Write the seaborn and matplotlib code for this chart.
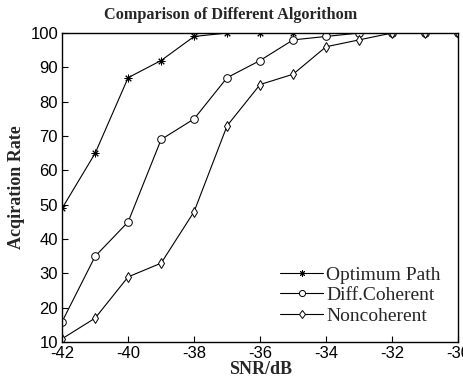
import pandas as pd
import matplotlib.pyplot as plt
import seaborn as sns

# -----------------------------
# Data
# -----------------------------
snr = [-42, -41, -40, -39, -38, -37, -36, -35, -34, -33, -32, -31, -30]
optimum_path = [49, 65, 87, 92, 99, 100, 100, 100, 100, 100, 100, 100, 100]
diff_coherent = [16, 35, 45, 69, 75, 87, 92, 98, 99, 100, 100, 100, 100]
noncoherent = [11, 17, 29, 33, 48, 73, 85, 88, 96, 98, 100, 100, 100]

series_names = ["Optimum Path", "Diff.Coherent", "Noncoherent"]
series_markers = [(8, 2, 0), "o", "d"]

df = pd.DataFrame({
    "snr": snr * 3,
    "rate": optimum_path + diff_coherent + noncoherent,
    "algo": [n for n in series_names for _ in snr],
})

sns.set_style("white")
plt.rcParams["font.family"] = ["Liberation Sans", "DejaVu Sans"]
plt.rcParams["axes.unicode_minus"] = False

fig = plt.figure(figsize=(4.64, 3.84), dpi=100)
ax = fig.add_axes([0.134, 0.109, 0.853, 0.805])

for name, mk in zip(series_names, series_markers):
    sns.lineplot(
        data=df[df["algo"] == name],
        x="snr", y="rate",
        ax=ax,
        color="black",
        linewidth=0.8,
        marker=mk,
        markersize=5.5,
        markerfacecolor="white",
        markeredgecolor="black",
        markeredgewidth=0.7,
        label=name,
    )

ax.set_xlim(-42, -30)
ax.set_ylim(10, 100)
ax.set_xticks([-42, -40, -38, -36, -34, -32, -30])
ax.set_yticks(range(10, 101, 10))
ax.tick_params(direction="in", length=4, width=0.8, labelsize=12, colors="black",
               top=False, right=False, bottom=True, left=True, pad=3)
for s in ax.spines.values():
    s.set_color("black")
    s.set_linewidth(1.0)

serif = ["Liberation Serif", "DejaVu Serif"]
# title sits centred on the figure, not on the axes
fig.text(0.497, 0.961, "Comparison of Different Algorithom", fontsize=11.7,
         fontweight="bold", family=serif, ha="center", va="center")
ax.set_xlabel("SNR/dB", fontsize=13, fontweight="bold", family=serif, labelpad=0)
ax.set_ylabel("Acqiration Rate", fontsize=13, fontweight="bold", family=serif, labelpad=4)

leg = ax.legend(loc="lower right", frameon=False, prop={"family": serif, "size": 14},
                handlelength=2.2, handletextpad=0.15, labelspacing=0.15,
                borderaxespad=0.5, markerscale=0.8)

fig.savefig("out.png", dpi=100)
